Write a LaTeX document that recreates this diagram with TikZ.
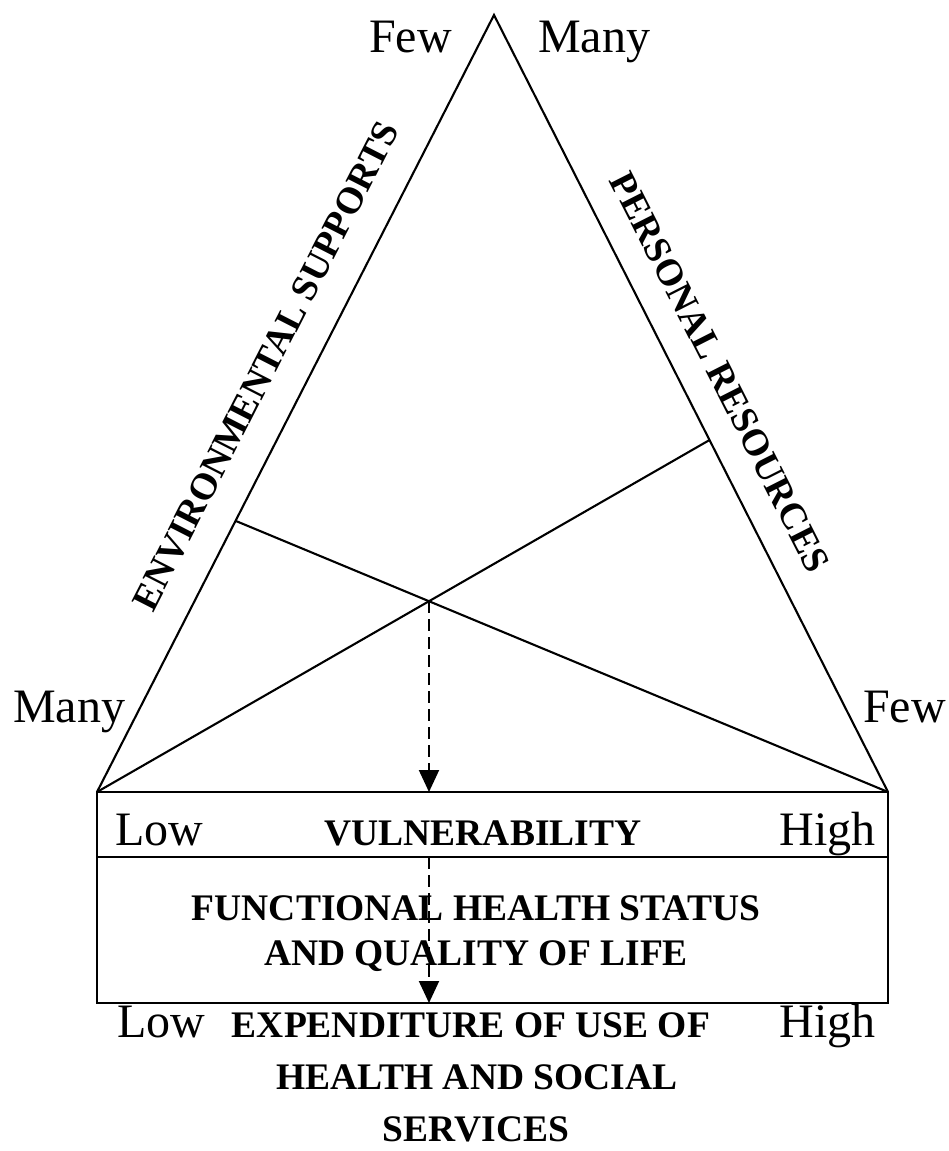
\documentclass[tikz,border=0pt]{standalone}
\usepackage{fontspec}
\setmainfont{Liberation Serif}
\usetikzlibrary{calc,arrows.meta}
\begin{document}
\begin{tikzpicture}[x=1pt,y=-1pt,
  edge/.style={line width=2.1pt, line join=miter},
  flow/.style={line width=2pt, dash pattern=on 12pt off 6pt,
    -{Triangle[length=22pt,width=20pt]}},
  plain/.style={font=\fontsize{48}{58}\selectfont, inner sep=0pt},
  heading/.style={font=\fontsize{37.5}{45}\selectfont\bfseries, inner sep=0pt}]
\useasboundingbox (0,0) rectangle (949,1151);

% triangle corners and the box below it
\coordinate (A)  at (494,15);
\coordinate (BL) at (97,792);
\coordinate (BR) at (888,792);
\coordinate (DL) at (97,857);
\coordinate (DR) at (888,857);
\coordinate (BB) at (888,1003);

% triangle with the two crossing lines
\draw[edge] (BL) -- (A) -- (BR);
\coordinate (P) at ($(A)!0.651!(BL)$);
\coordinate (Q) at ($(A)!0.547!(BR)$);
\draw[edge] (P) -- (BR);
\draw[edge] (BL) -- (Q);
\coordinate (X) at (intersection of P--BR and BL--Q);

% box with its divider
\draw[edge] (BL) rectangle (BB);
\draw[edge] (DL) -- (DR);

% dashed arrows down from the crossing
\draw[flow] (X) -- (X |- BL);
\draw[flow] (X |- DL) -- (X |- BB);

% corner labels
\node[plain, anchor=base east] (fewtop)   at (452,52)  {Few};
\node[plain, anchor=base west] (manytop)  at (538,52)  {Many};
\node[plain, anchor=base west] (manyleft) at (13,722)  {Many};
\node[plain, anchor=base east] (fewright) at (946,722) {Few};

% side labels
\node[heading, rotate=62.94]  (env)  at (266,366) {ENVIRONMENTAL SUPPORTS};
\node[heading, rotate=-63.11] (pers) at (720,372) {PERSONAL RESOURCES};

% box contents
\node[plain, anchor=base west] (lowv)  at (115,845) {Low};
\node[plain, anchor=base east] (highv) at (876,845) {High};
\node[heading, anchor=base] (vuln)  at (483,845) {VULNERABILITY};
\node[heading, anchor=base] (func1) at (476,920) {FUNCTIONAL HEALTH STATUS};
\node[heading, anchor=base] (func2) at (476,965) {AND QUALITY OF LIFE};

% outcome below the box
\node[plain, anchor=base west] (lowe)  at (117,1037) {Low};
\node[plain, anchor=base east] (highe) at (876,1037) {High};
\node[heading, anchor=base] (exp1) at (471,1037) {EXPENDITURE OF USE OF};
\node[heading, anchor=base] (exp2) at (477,1089) {HEALTH AND SOCIAL};
\node[heading, anchor=base] (exp3) at (476,1141) {SERVICES};
\end{tikzpicture}
\end{document}
